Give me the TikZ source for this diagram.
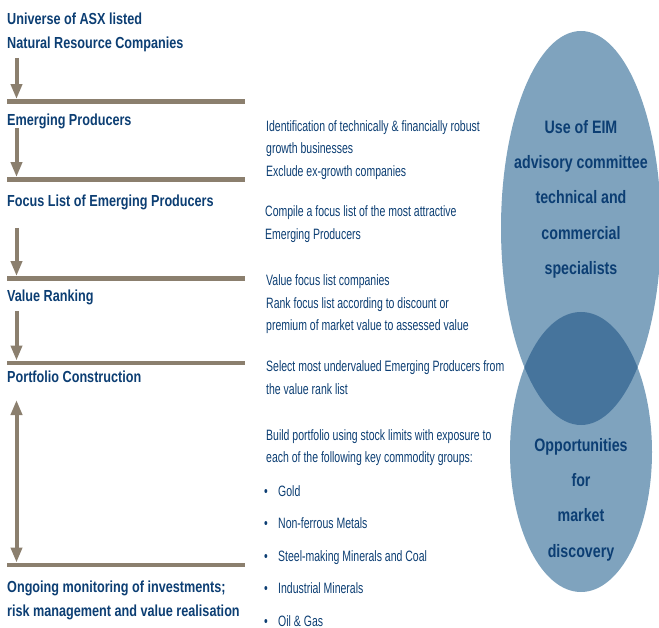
\documentclass[tikz,border=0pt]{standalone}
\usepackage{fontspec}
\setmainfont{Liberation Sans}
\newfontfamily\headfont{Liberation Sans}[FakeStretch=0.79]
\newfontfamily\notefont{Liberation Sans}[FakeStretch=0.70]
\usetikzlibrary{shapes.geometric, arrows.meta, positioning}
\definecolor{navy}{RGB}{12,62,115}
\definecolor{taupe}{RGB}{139,127,110}
\definecolor{steel}{RGB}{127,163,190}
\definecolor{lens}{RGB}{70,116,156}
% multi-line nodes sit on the baseline of their last line
\tikzstyle{stageNode} = [anchor=base west, inner sep=0pt, align=left, text=navy, font=\headfont\bfseries\fontsize{16}{24}\selectfont]
\tikzstyle{noteNode} = [anchor=base west, inner sep=0pt, align=left, text=navy, font=\notefont\fontsize{15}{22.3}\selectfont]
\tikzstyle{barNode} = [rectangle, fill=taupe, minimum width=238pt, minimum height=4.5pt, inner sep=0pt, anchor=west]
\tikzstyle{vennNode} = [anchor=base, inner sep=0pt, align=center, text=navy, font=\headfont\bfseries\fontsize{18}{35.2}\selectfont]
\tikzstyle{arrow} = [line width=4pt, draw=taupe, -{Triangle[width=11pt,length=15pt]}]
\tikzstyle{twoWay} = [line width=4pt, draw=taupe, {Triangle[width=11pt,length=15pt]}-{Triangle[width=11pt,length=15pt]}]

\begin{document}
\begin{tikzpicture}[x=1pt, y=-1pt]
    \useasboundingbox (0,0) rectangle (659,628);
    % Venn of the two ellipses, the overlap a darker blue
    \fill[steel] (581,228) ellipse (80 and 197);
    \fill[steel] (581,452) ellipse (71 and 140);
    \begin{scope}
        \clip (581,228) ellipse (80 and 197);
        \fill[lens] (581,452) ellipse (71 and 140);
    \end{scope}
    \node (advisory) [vennNode] at (581,274.3) {Use of EIM\\advisory committee\\technical and\\commercial\\specialists};
    \node (discovery) [vennNode] at (581,557.1) {Opportunities\\for\\market\\discovery};

    % Stages
    \node (universe) [stageNode] at (7,49) {Universe of ASX listed\\Natural Resource Companies};
    \node (emerging) [stageNode] at (7,126) {Emerging Producers};
    \node (focusList) [stageNode] at (7,207) {Focus List of Emerging Producers};
    \node (valueRanking) [stageNode] at (7,302) {Value Ranking};
    \node (portfolio) [stageNode] at (7,383) {Portfolio Construction};
    \node (monitoring) [stageNode] at (7,616) {Ongoing monitoring of investments;\\risk management and value realisation};
    % Bars
    \node (bar1) [barNode] at (7,101.5) {};
    \node (bar2) [barNode] at (7,179.5) {};
    \node (bar3) [barNode] at (7,278.5) {};
    \node (bar4) [barNode] at (7,363) {};
    \node (bar5) [barNode] at (7,565) {};

    % Notes beside each stage
    \node (screenNote) [noteNode] at (266,176.1) {Identification of technically \& financially robust\\growth businesses\\Exclude ex-growth companies};
    \node (focusNote) [noteNode] at (265,239.3) {Compile a focus list of the most attractive\\Emerging Producers};
    \node (valueNote) [noteNode] at (266,330.6) {Value focus list companies\\Rank focus list according to discount or\\premium of market value to assessed value};
    \node (selectNote) [noteNode] at (266,394.3) {Select most undervalued Emerging Producers from\\the value rank list};
    \node (buildNote) [noteNode] at (266,462.3) {Build portfolio using stock limits with exposure to\\each of the following key commodity groups:};
    % Commodity groups
    \node (gold) [noteNode] at (264,496) {\makebox[14pt][l]{\textbullet}Gold};
    \node (nonFerrous) [noteNode, below=32.5pt of gold.base west, anchor=base west] {\makebox[14pt][l]{\textbullet}Non-ferrous Metals};
    \node (steelCoal) [noteNode, below=32.5pt of nonFerrous.base west, anchor=base west] {\makebox[14pt][l]{\textbullet}Steel-making Minerals and Coal};
    \node (industrial) [noteNode, below=32.5pt of steelCoal.base west, anchor=base west] {\makebox[14pt][l]{\textbullet}Industrial Minerals};
    \node (oilGas) [noteNode, below=32.5pt of industrial.base west, anchor=base west] {\makebox[14pt][l]{\textbullet}Oil \& Gas};

    % Arrows
    \coordinate (a1) at (16.5,58);
    \coordinate (a2) at (16.5,128);
    \coordinate (a3) at (16.5,228);
    \coordinate (a4) at (16.5,311);
    \coordinate (a5) at (16.5,400);
    \draw [arrow] (a1) -- (a1 |- bar1.north);
    \draw [arrow] (a2) -- (a2 |- bar2.north);
    \draw [arrow] (a3) -- (a3 |- bar3.north);
    \draw [arrow] (a4) -- (a4 |- bar4.north);
    \draw [twoWay] (a5) -- (a5 |- bar5.north);

\end{tikzpicture}
\end{document}
